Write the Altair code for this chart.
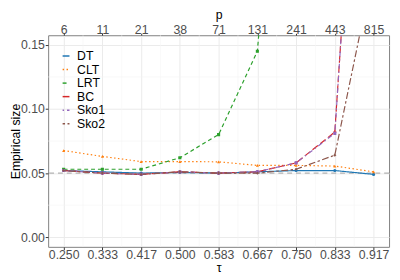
import altair as alt
import pandas as pd

tau = [0.25, 0.3333, 0.4167, 0.5, 0.5833, 0.6667, 0.75, 0.8333, 0.9167]
p_labels = ["6", "11", "21", "38", "71", "131", "241", "443", "815"]
methods = ["DT", "CLT", "LRT", "BC", "Sko1", "Sko2"]

DT = [0.052, 0.051, 0.050, 0.0505, 0.050, 0.051, 0.052, 0.052, 0.049]
CLT = [0.0676, 0.063, 0.059, 0.059, 0.0588, 0.056, 0.056, 0.0555, 0.051]
LRT = [0.053, 0.053, 0.053, 0.062, 0.080, 0.145, 0.50, 0.85, 0.98]
BC = [0.052, 0.050, 0.049, 0.051, 0.050, 0.051, 0.058, 0.082, 0.54]
Sko1 = [0.052, 0.050, 0.049, 0.051, 0.050, 0.051, 0.058, 0.081, 0.54]
Sko2 = [0.052, 0.050, 0.049, 0.051, 0.050, 0.050, 0.053, 0.064, 0.21]
series = [DT, CLT, LRT, BC, Sko1, Sko2]

colors = ["#1f77b4", "#ff7f0e", "#2ca02c", "#d62728", "#9467bd", "#8c564b"]
dashes = [[1, 0], [1.5, 2.5], [4, 3], [7, 3], [1.5, 3, 5, 3], [2.5, 2.5, 7, 2.5]]
shapes = ["circle", "triangle-up", "square", "cross", "square", "diamond"]

rows = []
for m, vals in zip(methods, series):
    for t, v in zip(tau, vals):
        rows.append({"tau": t, "size": v, "method": m})
df = pd.DataFrame(rows)

minor_x = [0.2917, 0.375, 0.4583, 0.5417, 0.625, 0.7083, 0.7917, 0.875]
minor_y = [0.025, 0.075, 0.125]
ref_y = [0.05]

xdom = [0.2167, 0.95]
ydom = [-0.0075, 0.1575]

xs = alt.Scale(domain=xdom, nice=False, zero=False)
ys = alt.Scale(domain=ydom, nice=False, zero=False)

FONT = "Liberation Sans"
common = dict(labelFontSize=12.5, labelColor="#4d4d4d", labelFont=FONT,
              titleFont=FONT, titleFontSize=12.5, titleColor="black",
              titleFontWeight="normal", tickColor="#333333", domain=False)

leg = alt.Legend(title=None, orient="none", legendX=12, legendY=15, padding=0,
                 symbolType="stroke", symbolSize=49,
                 symbolStrokeWidth=1.5, labelFontSize=12.5,
                 labelFont=FONT, labelColor="black",
                 rowPadding=0.8, labelOffset=5)
color_enc = alt.Color("method:N", scale=alt.Scale(domain=methods, range=colors), legend=leg)
dash_enc = alt.StrokeDash("method:N", scale=alt.Scale(domain=methods, range=dashes), legend=leg)

gx = alt.Chart(pd.DataFrame({"v": minor_x})).mark_rule(color="#f4f4f4", strokeWidth=0.6).encode(
    x=alt.X("v:Q", scale=xs, axis=None))
gy = alt.Chart(pd.DataFrame({"v": minor_y})).mark_rule(color="#f4f4f4", strokeWidth=0.6).encode(
    y=alt.Y("v:Q", scale=ys, axis=None))
ref = alt.Chart(pd.DataFrame({"v": ref_y})).mark_rule(color="#b3b3b3", strokeWidth=1.2,
                                                       strokeDash=[5, 4]).encode(
    y=alt.Y("v:Q", scale=ys, axis=None))

base = alt.Chart(df)
lines = base.mark_line(strokeWidth=1.2, clip=True).encode(
    x=alt.X("tau:Q", scale=xs,
            axis=alt.Axis(title="τ", values=tau, format=".3f", grid=True, gridColor="#ebebeb",
                          gridWidth=1, tickSize=3, labelBaseline="alphabetic", labelPadding=8.5,
                          titleBaseline="alphabetic", titleY=25, **common)),
    y=alt.Y("size:Q", scale=ys,
            axis=alt.Axis(title="Empirical size", values=[0, 0.05, 0.1, 0.15], format=".2f",
                          grid=True, gridColor="#ebebeb", gridWidth=1, tickSize=3,
                          labelPadding=1, titleBaseline="alphabetic", titleX=-29.5,
                          **common)),
    color=color_enc,
    strokeDash=dash_enc,
    detail="method:N",
)

point_layers = []
for m, c, s in zip(methods, colors, shapes):
    point_layers.append(
        base.transform_filter(alt.datum.method == m)
        .mark_point(size=10, filled=True, opacity=1, clip=True, color=c, shape=s)
        .encode(x=alt.X("tau:Q", scale=xs, axis=None),
                y=alt.Y("size:Q", scale=ys, axis=None))
    )

top = base.mark_point(opacity=0).encode(
    x=alt.X("tau:Q", scale=xs,
            axis=alt.Axis(orient="top", title="p", values=tau,
                          labelExpr="['6','11','21','38','71','131','241','443','815'][round(datum.value*12)-3]",
                          grid=False, tickSize=2, labelPadding=0, labelBaseline="alphabetic",
                          titleBaseline="alphabetic", titleY=-17, **common)),
)

chart = alt.layer(gx, gy, ref, lines, *point_layers, top).resolve_axis(
    x="independent", y="independent").properties(
    width=348, height=216,
    autosize=alt.AutoSizeParams(type="none"),
    padding={"left": 41, "top": 25, "right": 3, "bottom": 30},
).configure_view(stroke="#7f7f7f", strokeWidth=1)

chart.save("out.html", embed_options={"renderer": "svg", "actions": False})
